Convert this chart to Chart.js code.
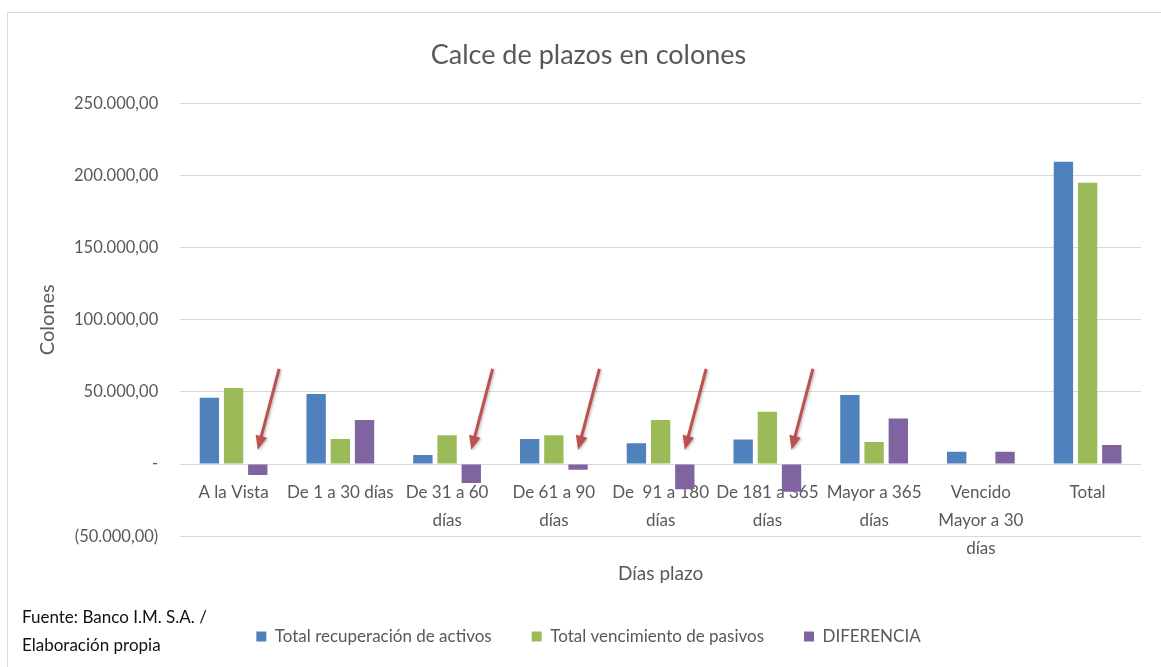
<!DOCTYPE html>
<html>
<head>
<meta charset="utf-8">
<script src="https://cdn.jsdelivr.net/npm/chart.js@4.4.1/dist/chart.umd.min.js"></script>
<style>
  html, body { margin: 0; padding: 0; background: #fff; }
  .wrap { position: relative; width: 1161px; height: 667px; }
  .frame { position: absolute; left: 7px; top: 12px; right: 0; bottom: 0;
    border-left: 1px solid #d9d9d9; border-top: 1px solid #d9d9d9; }
  .source { position: absolute; left: 22px; top: 603px; font: 17px Lato, sans-serif;
    color: #111; line-height: 28px; }
</style>
</head>
<body>
<div class="wrap">
  <div class="frame"></div>
  <canvas id="plazos" width="1161" height="667"></canvas>
  <div class="source">Fuente: Banco I.M. S.A. /<br>Elaboración propia</div>
</div>
<script>
// categorias del eje x (con saltos de linea como en el original)
const labels = [
  "A la Vista",
  "De 1 a 30 días",
  ["De 31 a 60", "días"],
  ["De 61 a 90", "días"],
  ["De  91 a 180", "días"],
  ["De 181 a 365", "días"],
  ["Mayor a 365", "días"],
  ["Vencido", "Mayor a 30", "días"],
  "Total"
];
const activos = [46000, 48600, 6300, 17400, 14400, 17100, 47900, 8600, 209500];
const pasivos = [52800, 17400, 20000, 20000, 30600, 36300, 15300, 0, 195000];
const diferencia = [-7600, 30600, -13200, -4000, -17400, -19200, 31500, 8600, 13200];

// flechas rojas: categorias que señalan
const arrowCats = [0, 2, 3, 4, 5];

const fmt = (v) => {
  const s = Math.abs(v).toFixed(0).replace(/\B(?=(\d{3})+(?!\d))/g, ".");
  return s + ",00";
};

const arrowPlugin = {
  id: "arrows",
  afterDatasetsDraw(chart) {
    const ctx = chart.ctx;
    const yScale = chart.scales.y;
    const meta = chart.getDatasetMeta(2);
    const step = chart.scales.x.getPixelForValue(1) - chart.scales.x.getPixelForValue(0);
    arrowCats.forEach((i) => {
      const bar = meta.data[i];
      const tx = bar.x;
      const ty = yScale.getPixelForValue(10000);
      const sx = bar.x + step * 0.2;
      const sy = yScale.getPixelForValue(66000);
      const ang = Math.atan2(ty - sy, tx - sx);
      const head = 15;
      ctx.save();
      ctx.shadowColor = "rgba(0,0,0,0.3)";
      ctx.shadowBlur = 3;
      ctx.shadowOffsetX = 1;
      ctx.shadowOffsetY = 1;
      ctx.strokeStyle = "#C0504D";
      ctx.fillStyle = "#C0504D";
      ctx.lineWidth = 3;
      ctx.beginPath();
      ctx.moveTo(sx, sy);
      ctx.lineTo(tx - Math.cos(ang) * head * 0.8, ty - Math.sin(ang) * head * 0.8);
      ctx.stroke();
      ctx.beginPath();
      ctx.moveTo(tx, ty);
      ctx.lineTo(tx - head * Math.cos(ang - 0.4), ty - head * Math.sin(ang - 0.4));
      ctx.lineTo(tx - head * Math.cos(ang + 0.4), ty - head * Math.sin(ang + 0.4));
      ctx.closePath();
      ctx.fill();
      ctx.restore();
    });
  }
};

const gray = "#595959";
Chart.defaults.font.family = "Lato, sans-serif";
Chart.defaults.color = gray;

new Chart(document.getElementById("plazos"), {
  type: "bar",
  data: {
    labels: labels,
    datasets: [
      { label: "Total recuperación de activos", data: activos, backgroundColor: "#4F81BD" },
      { label: "Total vencimiento de pasivos", data: pasivos, backgroundColor: "#9BBB59" },
      { label: "DIFERENCIA", data: diferencia, backgroundColor: "#8064A2" }
    ]
  },
  options: {
    responsive: false,
    animation: false,
    categoryPercentage: 0.68,
    barPercentage: 0.8,
    layout: { padding: { left: 36, right: 20, top: 0, bottom: 12 } },
    plugins: {
      title: {
        display: true,
        text: "Calce de plazos en colones",
        color: gray,
        font: { size: 27, weight: "normal" },
        padding: { top: 39, bottom: 32 }
      },
      legend: {
        position: "bottom",
        labels: { boxWidth: 10, boxHeight: 10, font: { size: 17 }, color: gray, padding: 40 }
      },
      tooltip: { enabled: false }
    },
    scales: {
      x: {
        position: { y: 0 },
        grid: { display: false },
        border: { display: false },
        ticks: { font: { size: 17, lineHeight: 1.65 }, color: gray, padding: 6, maxRotation: 0, autoSkip: false }
      },
      x2: {
        type: "category",
        position: "bottom",
        grid: { display: false },
        border: { display: false },
        ticks: { display: false },
        title: { display: true, text: "Días plazo", font: { size: 19 }, color: gray, padding: { top: 18, bottom: 3 } }
      },
      y: {
        min: -50000,
        max: 250000,
        ticks: {
          stepSize: 50000,
          font: { size: 16.5 },
          color: gray,
          padding: 22,
          callback: (v) => v === 0 ? "-" : v < 0 ? "(" + fmt(v) + ")" : fmt(v)
        },
        grid: { color: "#d9d9d9", drawTicks: false },
        border: { display: false },
        title: { display: true, text: "Colones", font: { size: 20 }, color: gray, padding: { top: 0, bottom: -8 } }
      }
    }
  },
  plugins: [arrowPlugin]
});
</script>
</body>
</html>
